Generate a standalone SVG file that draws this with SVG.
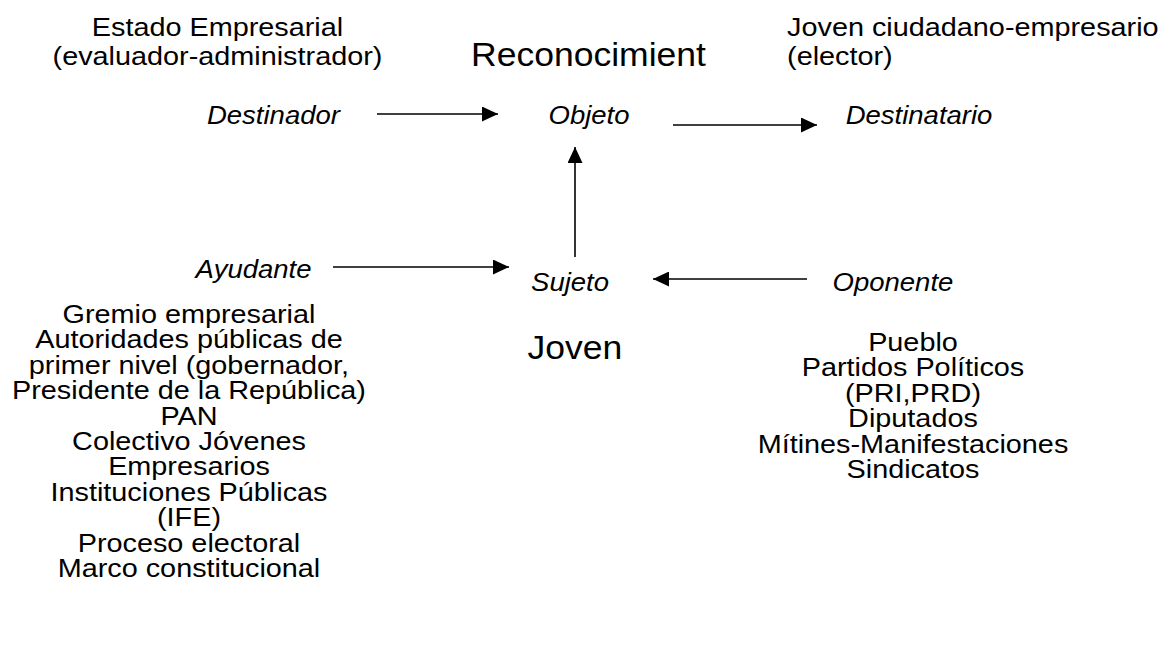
<svg xmlns="http://www.w3.org/2000/svg" width="1169" height="662" viewBox="0 0 1169 662">
<style>
text{font-family:"Liberation Sans",Arial,sans-serif;fill:#000}
.b{font-size:26.2px;text-anchor:middle}
.i{font-size:25px;font-style:italic;text-anchor:middle}
.g{font-size:32.3px;text-anchor:middle}
.s{text-anchor:start}
.c{stroke:#000;stroke-width:1.6;fill:none;marker-end:url(#ah)}
</style>
<defs>
<marker id="ah" markerUnits="userSpaceOnUse" markerWidth="16" markerHeight="15" refX="16" refY="7.5" orient="auto">
<path d="M0,0 L16,7.5 L0,15 z" fill="#000"/>
</marker>
</defs>
<rect width="1169" height="662" fill="#fff"/>
<g id="connectors">
<line class="c" x1="377" y1="114" x2="498" y2="114"/>
<line class="c" x1="673" y1="125" x2="817" y2="125"/>
<line class="c" x1="575" y1="257" x2="575" y2="147"/>
<line class="c" x1="333" y1="267" x2="509" y2="267"/>
<line class="c" x1="807" y1="279" x2="653" y2="279"/>
</g>
<g transform="scale(1.1 1)">
<g id="destinador">
<text class="b" x="197.7" y="36">Estado Empresarial</text>
<text class="b" x="197.7" y="65">(evaluador-administrador)</text>
<text class="i" x="248.6" y="124">Destinador</text>
</g>
<g id="objeto">
<text class="g" x="535" y="66">Reconocimient</text>
<text class="i" x="535.5" y="124">Objeto</text>
</g>
<g id="destinatario">
<text class="b s" x="715.5" y="36">Joven ciudadano-empresario</text>
<text class="b s" x="715.5" y="65">(elector)</text>
<text class="i" x="835.5" y="124">Destinatario</text>
</g>
<g id="ayudante">
<text class="i" x="230.5" y="278">Ayudante</text>
<text class="b" x="171.8" y="323">Gremio empresarial</text>
<text class="b" x="171.8" y="348.4">Autoridades públicas de</text>
<text class="b" x="171.8" y="373.8">primer nivel (gobernador,</text>
<text class="b" x="171.8" y="399.2">Presidente de la República)</text>
<text class="b" x="171.8" y="424.6">PAN</text>
<text class="b" x="171.8" y="450">Colectivo Jóvenes</text>
<text class="b" x="171.8" y="475.4">Empresarios</text>
<text class="b" x="171.8" y="500.8">Instituciones Públicas</text>
<text class="b" x="171.8" y="526.2">(IFE)</text>
<text class="b" x="171.8" y="551.6">Proceso electoral</text>
<text class="b" x="171.8" y="577">Marco constitucional</text>
</g>
<g id="sujeto">
<text class="i" x="518.2" y="291">Sujeto</text>
<text class="g" x="522.7" y="359">Joven</text>
</g>
<g id="oponente">
<text class="i" x="811.8" y="291">Oponente</text>
<text class="b" x="830" y="351">Pueblo</text>
<text class="b" x="830" y="376.4">Partidos Políticos</text>
<text class="b" x="830" y="401.8">(PRI,PRD)</text>
<text class="b" x="830" y="427.2">Diputados</text>
<text class="b" x="830" y="452.6">Mítines-Manifestaciones</text>
<text class="b" x="830" y="478">Sindicatos</text>
</g>
</g>
</svg>
